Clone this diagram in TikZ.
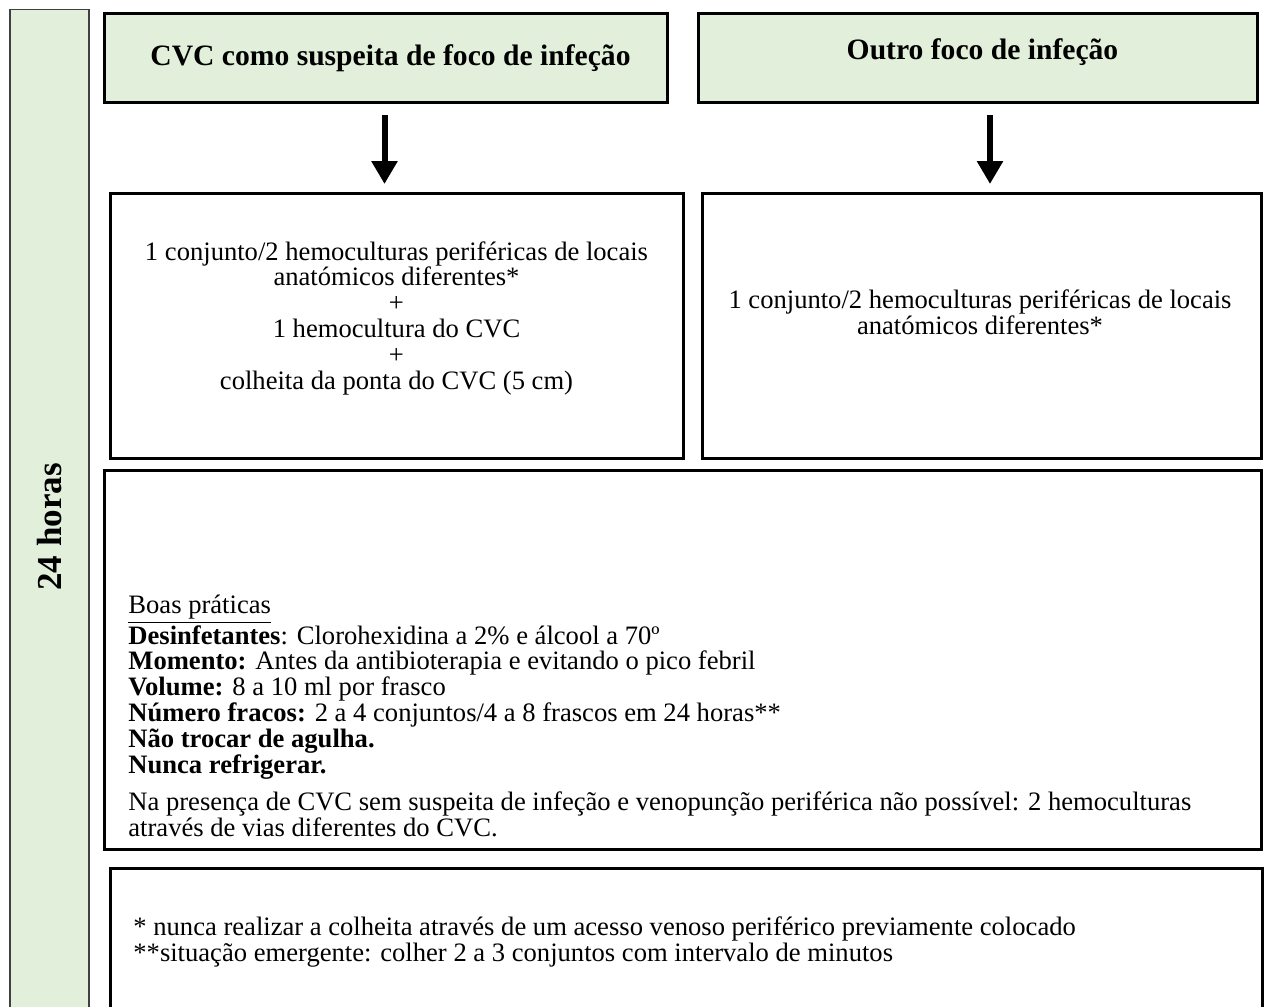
\documentclass[tikz,border=0pt]{standalone}
\usepackage{fontspec}
\setmainfont{Liberation Serif}
\usetikzlibrary{arrows.meta,calc}
\definecolor{lgreen}{HTML}{E2EFDA}
\begin{document}
\begin{tikzpicture}[x=0.5pt,y=-0.5pt,
  box/.style={draw=black, line width=1.5pt, inner sep=0pt, outer sep=0pt},
  hbox/.style={box, fill=lgreen},
  body/.style={font=\fontsize{13.3}{12.9}\selectfont, inner sep=0pt},
  head/.style={font=\fontsize{14.8}{16}\selectfont\bfseries, inner sep=0pt},
  arr/.style={line width=3pt, -{Triangle[length=11.5pt,width=12.5pt]}}
]
\useasboundingbox (0,0) rectangle (1265,1007);
\fill[white] (0,0) rectangle (1265,1007);

% left bar
\node[draw=black!75, line width=0.6pt, fill=lgreen, minimum width=39.5pt, minimum height=502pt, inner sep=0pt] (bar) at (49.5,511.5) {};
\node[rotate=90, font=\fontsize{17.5}{19}\selectfont\bfseries, inner sep=0pt] (t24) at (50,527) {24 horas};

% headers
\node[hbox, minimum width=281.5pt, minimum height=44.5pt] (h1) at (385.5,57.5) {};
\node[head] (h1t) at (390.5,58) {CVC como suspeita de foco de infeção};
\node[hbox, minimum width=279.5pt, minimum height=44.5pt] (h2) at (977.5,57.5) {};
\node[head] (h2t) at (982.5,52) {Outro foco de infeção};

% middle boxes
\node[box, minimum width=286.5pt, minimum height=132.5pt] (b1) at (396.5,325.5) {};
\node[body, align=center] (b1t) at (396.5,318) {1 conjunto/2 hemoculturas periféricas de locais\\anatómicos diferentes*\\+\\1 hemocultura do CVC\\+\\colheita da ponta do CVC (5 cm)};
\node[box, minimum width=279.5pt, minimum height=132.5pt] (b2) at (981.5,325.5) {};
\node[body, align=center] (b2t) at (980,312) {1 conjunto/2 hemoculturas periféricas de locais\\anatómicos diferentes*};

% arrows
\draw[arr] ($(h1.south)+(-1,13)$) -- ($(h1.south |- b1.north)+(-1,-9)$);
\draw[arr] ($(h2.south)+(12.5,13)$) -- ($(h2.south |- b2.north)+(12.5,-9)$);

% good practices box
\node[box, minimum width=578.5pt, minimum height=189.5pt] (b3) at (682.5,659.5) {};
\node[body, align=left, anchor=west] (b3t) at (128,687) {\underline{Boas práticas}\\
\textbf{Desinfetantes}: Clorohexidina a 2\% e álcool a 70º\\
\textbf{Momento:} Antes da antibioterapia e evitando o pico febril\\
\textbf{Volume:} 8 a 10 ml por frasco\\
\textbf{Número fracos:} 2 a 4 conjuntos/4 a 8 frascos em 24 horas**\\
\textbf{Não trocar de agulha.}\\
\textbf{Nunca refrigerar.}};
\node[body, align=left, anchor=west] (b3u) at (128,814) {Na presença de CVC sem suspeita de infeção e venopunção periférica não possível: 2 hemoculturas\\através de vias diferentes do CVC.};

% footnote box
\node[box, minimum width=576pt, minimum height=75pt] (b4) at (686,943) {};
\node[body, align=left, anchor=west] (b4t) at (133,942) {* nunca realizar a colheita através de um acesso venoso periférico previamente colocado\\**situação emergente: colher 2 a 3 conjuntos com intervalo de minutos};
\end{tikzpicture}
\end{document}
